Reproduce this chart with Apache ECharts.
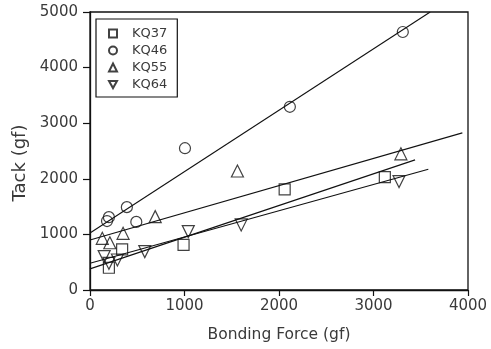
<!DOCTYPE html>
<html>
<head>
<meta charset="utf-8">
<script src="https://cdn.jsdelivr.net/npm/echarts@6/dist/echarts.min.js"></script>
<style>html,body{margin:0;padding:0;background:#fff}#c{width:491px;height:349px}</style>
</head>
<body>
<div id="c"></div>
<script>
// Data
var seriesNames = ['KQ37', 'KQ46', 'KQ55', 'KQ64'];
var kq37 = [[200, 400], [340, 730], [990, 810], [2060, 1810], [3120, 2030]];
var kq46 = [[180, 1240], [200, 1310], [390, 1490], [490, 1225], [1005, 2550], [2115, 3295], [3310, 4640]];
var kq55 = [[130, 930], [210, 850], [350, 1020], [690, 1320], [1560, 2140], [3290, 2450]];
var kq64 = [[150, 600], [200, 480], [290, 540], [580, 690], [1040, 1050], [1600, 1170], [3270, 1950]];
// fitted lines (endpoints)
var fit37 = [[0, 380], [3440, 2340]];
var fit46 = [[0, 1025], [3600, 5000]];
var fit55 = [[0, 899], [3940, 2826]];
var fit64 = [[0, 480], [3580, 2172]];
var xTicks = [0, 1000, 2000, 3000, 4000];
var yTicks = [0, 1000, 2000, 3000, 4000, 5000];

var FONT = 'DejaVu Sans';
var TXT = '#3a3a3a';
var chart = echarts.init(document.getElementById('c'), null, {renderer: 'canvas'});

function scatter(name, data, symbol, size, rot) {
  return {
    name: name, type: 'scatter', data: data, symbol: symbol, symbolSize: size,
    symbolRotate: rot || 0,
    itemStyle: {color: 'rgba(255,255,255,0)', borderColor: '#111', borderWidth: 1.2},
    z: 3
  };
}
function fit(name, data) {
  return {
    name: name, type: 'line', data: data, symbol: 'none', silent: true,
    lineStyle: {color: '#111', width: 1.1}, z: 2
  };
}
function plain(v) { return String(v); }

chart.setOption({
  animation: false,
  backgroundColor: '#fff',
  grid: {left: 90, right: 23, top: 12, bottom: 59, show: true, borderColor: '#111', borderWidth: 1.3, backgroundColor: 'transparent'},
  legend: {
    data: [
      {name: seriesNames[0]},
      {name: seriesNames[1]},
      {name: seriesNames[2]},
      {name: seriesNames[3], icon: 'path://M0,0 L10,0 L5,9 Z'}
    ],
    orient: 'vertical', left: 96, top: 19,
    borderColor: '#111', borderWidth: 1.2, borderRadius: 0,
    padding: [8, 10, 6, 12],
    itemWidth: 8, itemHeight: 8, itemGap: 4,
    textStyle: {fontFamily: FONT, fontSize: 13, color: TXT, padding: [0, 0, 0, 10]},
    selectedMode: false
  },
  xAxis: {
    type: 'value', min: xTicks[0], max: xTicks[xTicks.length - 1], interval: 1000,
    name: 'Bonding Force (gf)', nameLocation: 'middle', nameGap: 37,
    nameTextStyle: {fontFamily: FONT, fontSize: 15.5, color: TXT},
    axisLine: {show: true, onZero: false, lineStyle: {color: '#111', width: 1.3}},
    axisTick: {show: true, inside: false, length: 6, lineStyle: {color: '#111', width: 1.2}},
    axisLabel: {fontFamily: FONT, fontSize: 15, color: TXT, margin: 9, formatter: plain},
    splitLine: {show: false}
  },
  yAxis: {
    type: 'value', min: yTicks[0], max: yTicks[yTicks.length - 1], interval: 1000,
    name: 'Tack (gf)', nameLocation: 'middle', nameGap: 55,
    nameTextStyle: {fontFamily: FONT, fontSize: 18, color: TXT, padding: [0, 24, 0, 0]},
    axisLine: {show: true, onZero: false, lineStyle: {color: '#111', width: 1.3}},
    axisTick: {show: true, inside: false, length: 7, lineStyle: {color: '#111', width: 1.2}},
    axisLabel: {fontFamily: FONT, fontSize: 15, color: TXT, margin: 12, formatter: plain},
    splitLine: {show: false}
  },
  series: [
    fit('fit37', fit37), fit('fit46', fit46), fit('fit55', fit55), fit('fit64', fit64),
    scatter(seriesNames[0], kq37, 'rect', 11),
    scatter(seriesNames[1], kq46, 'circle', 11),
    scatter(seriesNames[2], kq55, 'triangle', 12),
    scatter(seriesNames[3], kq64, 'triangle', 12, 180)
  ]
});
</script>
</body>
</html>
